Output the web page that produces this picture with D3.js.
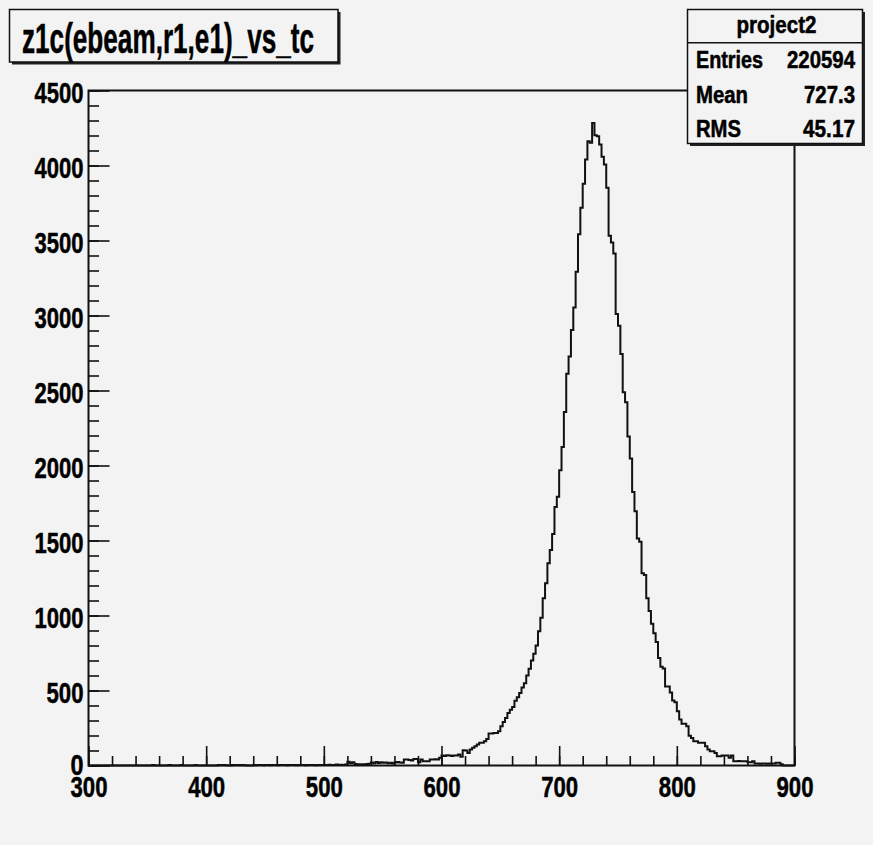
<!DOCTYPE html>
<html>
<head>
<meta charset="utf-8">
<script src="https://cdn.jsdelivr.net/npm/d3@7/dist/d3.min.js"></script>
<style>
  html, body { margin: 0; padding: 0; background: #f3f3f3; }
  svg { display: block; }
  text { font-family: "Liberation Sans", Arial, Helvetica, sans-serif; font-weight: bold; stroke: #000; stroke-width: 0.5px; }
</style>
</head>
<body>
<div id="chart"></div>
<script>
// Configuration
const width = 873;
const height = 845;

// Textes
const title = "z1c(ebeam,r1,e1)_vs_tc";
const statsName = "project2";
const statLabels = ["Entries", "Mean", "RMS"];
const statValues = ["220594", "727.3", "45.17"];

// Axes
const xMin = 300;
const xMax = 900;
const binWidth = 2;
const xTicks = [300, 400, 500, 600, 700, 800, 900];
const yTicks = [0, 500, 1000, 1500, 2000, 2500, 3000, 3500, 4000, 4500];

// Contenu des bins (300 bins de 2 unités, de 300 à 900)
const counts = [
  0, 0, 0, 0, 0, 0, 0, 0, 0, 0,
  0, 0, 0, 0, 0, 0, 0, 0, 0, 0,
  0, 0, 0, 0, 0, 0, 0, 4, 0, 0,
  0, 0, 0, 0, 4, 0, 0, 0, 0, 3,
  0, 0, 0, 0, 0, 3, 0, 0, 0, 0,
  0, 0, 0, 0, 0, 3, 2, 3, 2, 0,
  0, 3, 2, 3, 2, 3, 2, 0, 0, 0,
  3, 2, 4, 3, 2, 3, 4, 2, 3, 3,
  2, 3, 4, 3, 2, 3, 3, 4, 2, 3,
  3, 4, 2, 3, 4, 3, 2, 3, 4, 3,
  4, 3, 5, 3, 4, 6, 3, 5, 4, 6,
  25, 15, 22, 10, 8, 7, 9, 8, 10, 12,
  20, 15, 24, 16, 22, 18, 20, 15, 18, 14,
  20, 24, 20, 18, 40, 40, 36, 33, 44, 44,
  22, 40, 29, 29, 29, 40, 40, 42, 40, 51,
  66, 64, 68, 66, 63, 67, 66, 73, 58, 102,
  100, 84, 106, 118, 128, 140, 151, 151, 162, 177,
  213, 213, 217, 217, 228, 261, 290, 317, 350, 372,
  390, 432, 455, 484, 520, 548, 600, 645, 700, 745,
  800, 895, 985, 1115, 1215, 1348, 1436, 1543, 1724, 1791,
  1968, 2123, 2356, 2611, 2726, 2904, 3054, 3291, 3542, 3719,
  3878, 4040, 4162, 4151, 4284, 4202, 4195, 4140, 4058, 4007,
  3852, 3531, 3486, 3413, 3010, 2932, 2744, 2489, 2422, 2194,
  2046, 1824, 1695, 1514, 1491, 1281, 1270, 1115, 1030, 945,
  882, 824, 716, 658, 646, 527, 527, 487, 434, 421,
  361, 306, 279, 279, 261, 199, 184, 162, 162, 151,
  151, 151, 128, 106, 95, 95, 84, 62, 62, 66,
  66, 66, 51, 66, 29, 29, 30, 28, 29, 29,
  22, 22, 29, 13, 14, 12, 13, 14, 12, 13,
  14, 13, 18, 18, 8, 0, 0, 0, 0, 0
];

// Cadre
const frame = { left: 88.5, right: 794.5, top: 90.5, bottom: 765.5 };
const bg = "#f3f3f3";
const ink = "#111";

const svg = d3
  .select("#chart")
  .append("svg")
  .attr("width", width)
  .attr("height", height);

svg.append("rect").attr("width", width).attr("height", height).attr("fill", bg);

const x = d3.scaleLinear().domain([xMin, xMax]).range([frame.left, frame.right]);
const y = d3.scaleLinear().domain([0, 4500]).range([frame.bottom, frame.top]);

// Cadre du graphe
svg
  .append("rect")
  .attr("x", frame.left)
  .attr("y", frame.top)
  .attr("width", frame.right - frame.left)
  .attr("height", frame.bottom - frame.top)
  .attr("fill", "none")
  .attr("stroke", ink)
  .attr("stroke-width", 2);

// Histogramme en escalier
const steps = counts.map((c, i) => [xMin + i * binWidth, c]);
steps.push([xMax, counts[counts.length - 1]]);

const line = d3
  .line()
  .x((d) => x(d[0]))
  .y((d) => y(d[1]))
  .curve(d3.curveStepAfter);

svg
  .append("path")
  .datum(steps)
  .attr("d", line)
  .attr("fill", "none")
  .attr("stroke", ink)
  .attr("stroke-width", 2);

// Style commun des axes
function styleAxis(g) {
  g.attr("font-size", null).attr("font-family", null).attr("color", ink);
  g.select(".domain").remove();
  g.selectAll(".tick line").attr("stroke-width", 1.6);
}

// Axe X : graduations mineures puis majeures
svg
  .append("g")
  .attr("transform", `translate(0,${frame.bottom})`)
  .call(d3.axisBottom(x).tickValues(d3.range(xMin, xMax + 1, 20)).tickSize(-9.5).tickFormat(""))
  .call(styleAxis);

svg
  .append("g")
  .attr("transform", `translate(0,${frame.bottom})`)
  .call(d3.axisBottom(x).tickValues(xTicks).tickSize(-19.5).tickPadding(10).tickFormat(d3.format("d")))
  .call(styleAxis)
  .selectAll("text")
  .attr("fill", "#000")
  .style("font-size", "30px")
  .attr("textLength", (d) => String(d).length * 12 + 1)
  .attr("lengthAdjust", "spacingAndGlyphs");

// Axe Y
svg
  .append("g")
  .attr("transform", `translate(${frame.left},0)`)
  .call(d3.axisLeft(y).tickValues(d3.range(0, 4501, 100)).tickSize(-10.5).tickFormat(""))
  .call(styleAxis);

svg
  .append("g")
  .attr("transform", `translate(${frame.left},0)`)
  .call(d3.axisLeft(y).tickValues(yTicks).tickSize(-21).tickPadding(5).tickFormat(d3.format("d")))
  .call(styleAxis)
  .selectAll("text")
  .attr("fill", "#000")
  .attr("dy", (d) => (d === 0 ? "0.3em" : "0.4em"))
  .style("font-size", "30px")
  .attr("textLength", (d) => String(d).length * 12 + 1)
  .attr("lengthAdjust", "spacingAndGlyphs");

// Boîte avec ombre (style ROOT)
function shadowBox(bx, by, bw, bh) {
  svg
    .append("rect")
    .attr("x", bx + 2.5)
    .attr("y", by + 2.5)
    .attr("width", bw)
    .attr("height", bh)
    .attr("fill", "#222");
  svg
    .append("rect")
    .attr("x", bx)
    .attr("y", by)
    .attr("width", bw)
    .attr("height", bh)
    .attr("fill", bg)
    .attr("stroke", ink)
    .attr("stroke-width", 1.5);
}

// Titre
shadowBox(9.5, 9.5, 328.5, 52.5);
svg
  .append("text")
  .attr("x", 168)
  .attr("y", 53)
  .attr("text-anchor", "middle")
  .style("font-size", "42px")
  .attr("textLength", 292)
  .attr("lengthAdjust", "spacingAndGlyphs")
  .text(title);

// Boîte de statistiques
const stats = { x: 687.5, y: 9.5, w: 175, h: 134 };
shadowBox(stats.x, stats.y, stats.w, stats.h);

svg
  .append("line")
  .attr("x1", stats.x)
  .attr("x2", stats.x + stats.w)
  .attr("y1", 42.7)
  .attr("y2", 42.7)
  .attr("stroke", ink)
  .attr("stroke-width", 1.5);

svg
  .append("text")
  .attr("x", stats.x + stats.w / 2 + 1.5)
  .attr("y", 33.3)
  .attr("text-anchor", "middle")
  .style("font-size", "23px")
  .attr("textLength", 80)
  .attr("lengthAdjust", "spacingAndGlyphs")
  .text(statsName);

const rowBase = [68.3, 103.3, 136.7];
const labelWidths = [67, 52, 45];
const valueWidths = [68, 51, 52];

statLabels.forEach((label, i) => {
  svg
    .append("text")
    .attr("x", 696)
    .attr("y", rowBase[i])
    .style("font-size", "23px")
    .attr("textLength", labelWidths[i])
    .attr("lengthAdjust", "spacingAndGlyphs")
    .text(label);

  svg
    .append("text")
    .attr("x", 855)
    .attr("y", rowBase[i])
    .attr("text-anchor", "end")
    .style("font-size", "23px")
    .attr("textLength", valueWidths[i])
    .attr("lengthAdjust", "spacingAndGlyphs")
    .text(statValues[i]);
});
</script>
</body>
</html>
